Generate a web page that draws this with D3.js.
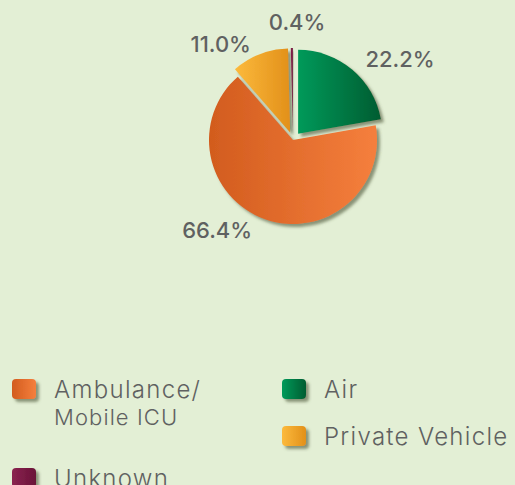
<!DOCTYPE html>
<html><head><meta charset="utf-8">
<script src="https://cdn.jsdelivr.net/npm/d3@7"></script>
<style>
html,body{margin:0;padding:0;background:#e3efd5;}
svg{display:block;}
text{font-family:Inter,"Open Sans",sans-serif;fill:#5f6161;}
</style></head><body>
<svg id="chart" width="515" height="485"></svg>
<script>
// ---- data ----
const categories = ["Air", "Ambulance/Mobile ICU", "Private Vehicle", "Unknown"];
const values = [22.2, 66.4, 11.0, 0.4];
const valueLabels = ["22.2%", "66.4%", "11.0%", "0.4%"];
const legendLines = [["Air"], ["Ambulance/", "Mobile ICU"], ["Private Vehicle"], ["Unknown"]];

// ---- styling / layout ----
const gradStops = [
  ["#009a5a", "#005c31"],
  ["#d25c1e", "#f57f3d"],
  ["#fcba3c", "#e2901a"],
  ["#8a2350", "#6a1238"]
];
const exploded = [8, 0, 8, 8];
const cx = 293, cy = 140, R = 84;
// label positions as polar (angle in degrees from top, distance) around the pie center
const labelPolar = [[53, 134], [220, 118], [323, 120], [2, 118]];
// legend grid cells [col,row]
const legendCell = [[1, 0], [0, 0], [1, 1], [0, 2]];
const colX = [12, 282], rowY = [379, 426, 468];

const svg = d3.select("#chart");
const defs = svg.append("defs");
categories.forEach((c, i) => {
  const g = defs.append("linearGradient").attr("id", "g" + i)
    .attr("x1", "0%").attr("x2", "100%").attr("y1", "0%").attr("y2", "0%");
  g.append("stop").attr("offset", "0%").attr("stop-color", gradStops[i][0]);
  g.append("stop").attr("offset", "100%").attr("stop-color", gradStops[i][1]);
});
const f = defs.append("filter").attr("id", "sh").attr("x", "-20%").attr("y", "-20%").attr("width", "150%").attr("height", "150%");
f.append("feDropShadow").attr("dx", 3).attr("dy", 3).attr("stdDeviation", 1.8)
  .attr("flood-color", "#4d5638").attr("flood-opacity", 0.6);

const pie = d3.pie().sort(null).value(d => d)(values);
const arc = d3.arc().innerRadius(0).outerRadius(R);

const gPie = svg.append("g").attr("transform", `translate(${cx},${cy})`);
gPie.selectAll("path").data(pie).join("path")
  .attr("d", arc)
  .attr("fill", (d, i) => `url(#g${i})`)
  .attr("filter", "url(#sh)")
  .attr("transform", (d, i) => {
    const a = (d.startAngle + d.endAngle) / 2;
    return `translate(${Math.sin(a) * exploded[i]},${-Math.cos(a) * exploded[i]})`;
  });

svg.append("g").selectAll("text").data(valueLabels).join("text")
  .attr("x", (d, i) => cx + Math.sin(labelPolar[i][0] * Math.PI / 180) * labelPolar[i][1])
  .attr("y", (d, i) => cy - Math.cos(labelPolar[i][0] * Math.PI / 180) * labelPolar[i][1] + 8)
  .attr("text-anchor", "middle")
  .style("font-size", "22px").style("font-weight", 500)
  .text(d => d);

const leg = svg.append("g");
categories.forEach((c, i) => {
  const x = colX[legendCell[i][0]], y = rowY[legendCell[i][1]];
  leg.append("rect").attr("x", x).attr("y", y).attr("width", 24).attr("height", 20)
    .attr("rx", 4).attr("fill", `url(#g${i})`).attr("filter", "url(#sh)");
  legendLines[i].forEach((t, j) => {
    leg.append("text").attr("x", x + 42).attr("y", y + 19 + j * 27)
      .style("font-size", j === 0 ? "24px" : "22px").style("font-weight", 300)
      .style("letter-spacing", j === 0 ? "1.3px" : "1.1px")
      .text(t);
  });
});
</script>
</body></html>
